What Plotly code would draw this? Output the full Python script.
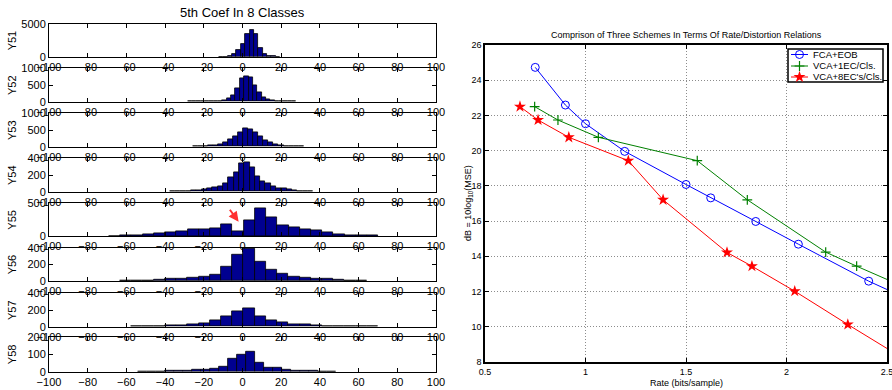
import plotly.graph_objects as go

# ---------------- data: left histograms (5th coefficient, 8 classes) ----------------
class_names = ["Y51", "Y52", "Y53", "Y54", "Y55", "Y56", "Y57", "Y58"]
first_centers = [-11.0, -27.25, -24.3, -36.25, -66.1, -60.4, -54.6, -51.6]
bin_widths = [2.25, 2.25, 2.6, 2.75, 5.8, 5.8, 5.8, 4.65]
y_max = [5000, 1000, 1000, 400, 500, 400, 400, 200]
y_ticks = [[0, 5000], [0, 500, 1000], [0, 500, 1000], [0, 200, 400],
           [0, 500], [0, 200, 400], [0, 200, 400], [0, 100, 200]]

y51_counts = [10, 30, 120, 350, 1100, 2000, 3400, 4100, 3400, 1300, 450, 150, 50, 20]
y52_counts = [3, 4, 5, 6, 8, 10, 15, 25, 40, 110, 200, 400, 700, 775, 740, 500, 290,
              130, 65, 30, 15, 10, 6, 4, 3]
y53_counts = [8, 12, 20, 30, 50, 80, 130, 220, 310, 420, 550, 520, 420, 300, 195, 120,
              75, 45, 25, 15, 8, 5]
y54_counts = [2, 4, 6, 10, 15, 20, 28, 38, 48, 65, 95, 170, 230, 345, 355, 290, 185,
              125, 95, 65, 45, 35, 25, 15, 10, 6, 3]
y55_counts = [2, 5, 12, 30, 45, 55, 70, 95, 105, 125, 180, 65, 235, 420, 290, 170, 135,
              100, 80, 50, 30, 18, 8, 4]
y56_counts = [3, 5, 8, 15, 25, 30, 38, 52, 80, 168, 315, 392, 228, 140, 90, 55, 42, 30,
              22, 14, 8, 4]
y57_counts = [3, 5, 8, 12, 16, 28, 40, 74, 130, 188, 215, 122, 74, 48, 34, 24, 14, 9,
              6, 4, 3, 2]
y58_counts = [1, 2, 2, 3, 4, 6, 9, 14, 18, 30, 75, 99, 115, 52, 24, 24, 11, 6, 4, 3, 2, 1]
hist_counts = [y51_counts, y52_counts, y53_counts, y54_counts,
               y55_counts, y56_counts, y57_counts, y58_counts]
hist_xticks = [-100, -80, -60, -40, -20, 0, 20, 40, 60, 80, 100]

# ---------------- data: right rate/distortion chart ----------------
rate_fca = [0.75, 0.90, 1.00, 1.195, 1.50, 1.623, 1.847, 2.059, 2.409, 2.62]
db_fca = [24.73, 22.59, 21.53, 19.96, 18.08, 17.32, 15.98, 14.69, 12.59, 11.49]
rate_vca1 = [0.747, 0.863, 1.064, 1.556, 1.805, 2.195, 2.349, 2.62]
db_vca1 = [22.50, 21.74, 20.76, 19.43, 17.21, 14.24, 13.44, 12.09]
rate_vca8 = [0.674, 0.764, 0.917, 1.213, 1.386, 1.704, 1.828, 2.041, 2.305, 2.62]
db_vca8 = [22.50, 21.74, 20.76, 19.43, 17.21, 14.22, 13.44, 12.02, 10.13, 7.93]
series_names = ["FCA+EOB", "VCA+1EC/Cls.", "VCA+8EC's/Cls."]
series_colors = ["#0000FF", "#008000", "#FF0000"]
rate_ticks = [0.5, 1, 1.5, 2, 2.5]
rate_tick_text = ["0.5", "1", "1.5", "2", "2.5"]
db_ticks = [8, 10, 12, 14, 16, 18, 20, 22, 24, 26]

# ---------------- layout geometry (pixels) ----------------
W, H = 892, 390
FONT = "Liberation Sans, Arial, Helvetica, sans-serif"
left_x = (49, 436)
tops = [24, 68.3, 113.3, 158.3, 203.3, 247.7, 293.3, 336.7]
bottoms = [56.7, 101.7, 146.7, 191.7, 236, 281, 326.7, 371.7]
right_x = (485, 887)
right_y = (45, 362)
legend_box = (788, 49, 883, 82)          # x0, y0, x1, y1 in pixels
legend_rows = [54.5, 66, 77]
legend_line = (791, 808)
legend_text_x = 811


def px_x(p):
    return p / W


def px_y(p):
    return (H - p) / H


marker_styles = [
    dict(symbol="circle-open", size=8, color=series_colors[0], line=dict(width=1)),
    dict(symbol="cross-thin", size=7, color=series_colors[1],
         line=dict(width=1.2, color=series_colors[1])),
    dict(symbol="star", size=9, color=series_colors[2], line=dict(width=0)),
]

fig = go.Figure()
layout = dict(
    width=W, height=H, autosize=False,
    margin=dict(l=0, r=0, t=0, b=0, autoexpand=False),
    paper_bgcolor="white", plot_bgcolor="rgba(0,0,0,0)",
    font=dict(family=FONT, color="black", size=11),
    showlegend=False,
    bargap=0,
)

annotations = []
shapes = []

for i in range(8):
    n = i + 1
    counts = hist_counts[i]
    centers = [first_centers[i] + bin_widths[i] * k for k in range(len(counts))]
    xa = "x" if n == 1 else f"x{n}"
    ya = "y" if n == 1 else f"y{n}"
    fig.add_trace(go.Bar(
        x=centers, y=counts, width=bin_widths[i],
        marker=dict(color="#000090", line=dict(color="black", width=0.8)),
        xaxis=xa, yaxis=ya, hoverinfo="skip",
    ))
    layout[f"xaxis{n}"] = dict(
        domain=[px_x(left_x[0]), px_x(left_x[1])], anchor=ya,
        range=[-100, 100], tickvals=hist_xticks,
        ticks="inside", ticklen=4, tickwidth=1, tickcolor="black",
        showline=True, linecolor="black", linewidth=1, mirror="ticks",
        showgrid=False, zeroline=False, automargin=False,
        tickfont=dict(size=11, family=FONT), ticklabeloverflow="allow",
    )
    layout[f"yaxis{n}"] = dict(
        domain=[px_y(bottoms[i]), px_y(tops[i])], anchor=xa,
        range=[0, y_max[i]], tickvals=y_ticks[i],
        ticks="inside", ticklen=4, tickwidth=1, tickcolor="black",
        showline=True, linecolor="black", linewidth=1, mirror="ticks",
        showgrid=False, zeroline=False, automargin=False,
        tickfont=dict(size=11, family=FONT), ticklabeloverflow="allow",
    )
    annotations.append(dict(
        text=class_names[i], xref="paper", yref="paper",
        x=px_x(12), y=px_y((tops[i] + bottoms[i]) / 2),
        textangle=-90, showarrow=False, xanchor="center", yanchor="middle",
        font=dict(size=11, family=FONT),
    ))

# red arrow on Y55
annotations.append(dict(
    x=-2.0, y=219, xref="x5", yref="y5",
    ax=-7.1, ay=424, axref="x5", ayref="y5",
    showarrow=True, arrowhead=2, arrowsize=1, arrowwidth=2,
    arrowcolor="#FF3030", text="",
))

annotations.append(dict(
    text="5th Coef In 8 Classes", xref="paper", yref="paper",
    x=px_x(242), y=px_y(12), showarrow=False,
    xanchor="center", yanchor="middle", font=dict(size=13, family=FONT),
))

# ---------------- right chart ----------------
for xs, ys, name, col, mk in zip([rate_fca, rate_vca1, rate_vca8],
                                 [db_fca, db_vca1, db_vca8],
                                 series_names, series_colors, marker_styles):
    fig.add_trace(go.Scatter(
        x=xs, y=ys, name=name, mode="lines+markers",
        line=dict(color=col, width=1), marker=mk,
        xaxis="x9", yaxis="y9", hoverinfo="skip",
    ))

grid_style = dict(showgrid=True, gridcolor="#8C8C8C", griddash="1px,2px", gridwidth=1)
layout["xaxis9"] = dict(
    domain=[px_x(right_x[0]), px_x(right_x[1])], anchor="y9",
    range=[0.5, 2.5], tickvals=rate_ticks, ticktext=rate_tick_text,
    ticks="inside", ticklen=4, tickcolor="black",
    showline=True, linecolor="black", linewidth=1.5, mirror="ticks",
    zeroline=False, automargin=False, tickfont=dict(size=9, family=FONT),
    ticklabeloverflow="allow", **grid_style,
)
layout["yaxis9"] = dict(
    domain=[px_y(right_y[1]), px_y(right_y[0])], anchor="x9",
    range=[8, 26], tickvals=db_ticks,
    ticks="inside", ticklen=4, tickcolor="black",
    showline=True, linecolor="black", linewidth=1.5, mirror="ticks",
    zeroline=False, automargin=False, tickfont=dict(size=9, family=FONT),
    ticklabeloverflow="allow", **grid_style,
)

annotations.append(dict(
    text="Comprison of Three Schemes In Terms Of Rate/Distortion Relations",
    xref="paper", yref="paper", x=px_x(686), y=px_y(35), showarrow=False,
    xanchor="center", yanchor="middle", font=dict(size=9, family=FONT),
))
annotations.append(dict(
    text="Rate (bits/sample)", xref="paper", yref="paper",
    x=px_x(686), y=px_y(383), showarrow=False,
    xanchor="center", yanchor="middle", font=dict(size=9, family=FONT),
))
annotations.append(dict(
    text="dB = 10log<sub>10</sub>(MSE)", xref="paper", yref="paper",
    x=px_x(469), y=px_y(203), textangle=-90, showarrow=False,
    xanchor="center", yanchor="middle", font=dict(size=9, family=FONT),
))

# ---------------- compact legend (MATLAB style) on a pixel-coordinate overlay ----------------
layout["xaxis10"] = dict(domain=[0, 1], range=[0, W], visible=False, anchor="y10",
                         fixedrange=True)
layout["yaxis10"] = dict(domain=[0, 1], range=[H, 0], visible=False, anchor="x10",
                         fixedrange=True)
shapes.append(dict(
    type="rect", xref="x10", yref="y10",
    x0=legend_box[0], y0=legend_box[1], x1=legend_box[2], y1=legend_box[3],
    line=dict(color="black", width=1.5), fillcolor="white", layer="below",
))
for row, name, col, mk in zip(legend_rows, series_names, series_colors, marker_styles):
    fig.add_trace(go.Scatter(
        x=[legend_line[0], legend_line[1]], y=[row, row], mode="lines",
        line=dict(color=col, width=1), xaxis="x10", yaxis="y10", hoverinfo="skip",
    ))
    fig.add_trace(go.Scatter(
        x=[(legend_line[0] + legend_line[1]) / 2], y=[row], mode="markers",
        marker=mk, xaxis="x10", yaxis="y10", hoverinfo="skip",
    ))
    annotations.append(dict(
        text=name, xref="paper", yref="paper",
        x=px_x(legend_text_x), y=px_y(row), showarrow=False,
        xanchor="left", yanchor="middle", font=dict(size=9.5, family=FONT),
    ))

layout["annotations"] = annotations
layout["shapes"] = shapes

fig.update_layout(**layout)
fig.write_html("out.html", config={"displayModeBar": False, "staticPlot": False},
               post_script="document.body.style.margin='0px';")
